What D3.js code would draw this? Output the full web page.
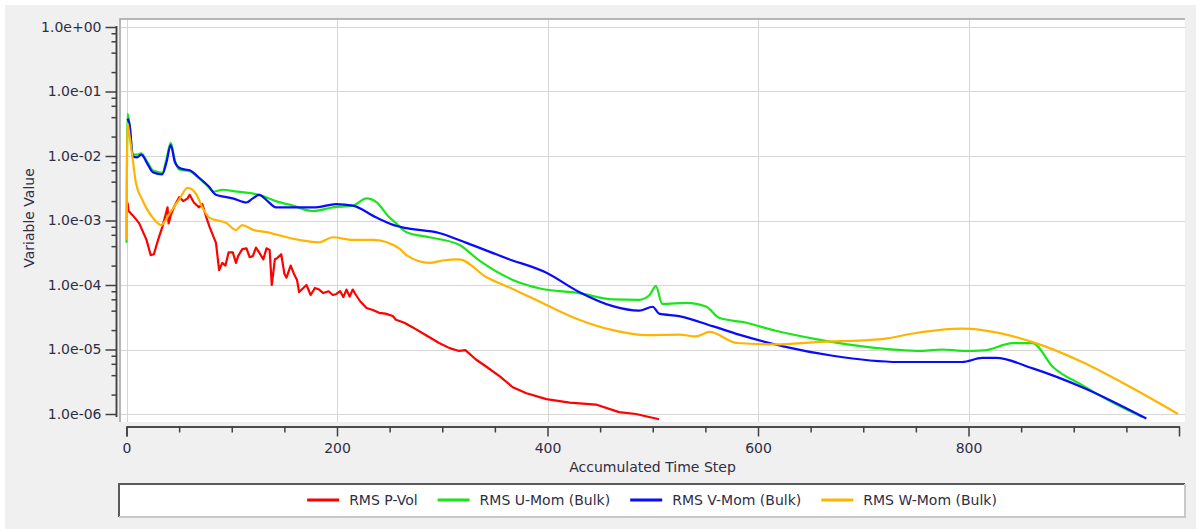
<!DOCTYPE html>
<html>
<head>
<meta charset="utf-8">
<script src="https://cdn.jsdelivr.net/npm/d3@7"></script>
<style>
  html, body { margin: 0; padding: 0; background: #fff; }
  svg { display: block; font-family: "DejaVu Sans", sans-serif; }
</style>
</head>
<body>
<svg id="chart" width="1199" height="529"></svg>
<script>
const width = 1199;
const height = 529;

// series: [step] / [value]
const seriesNames = ["RMS P-Vol", "RMS U-Mom (Bulk)", "RMS V-Mom (Bulk)", "RMS W-Mom (Bulk)"];
const seriesColors = ["#ff0000", "#19e619", "#0a0aff", "#ffb400"];

const pVolSteps = [1, 2, 6, 12, 19, 23, 26, 30, 34, 37, 39, 40, 42, 45, 50, 54, 58, 60, 64, 69, 72, 76, 79, 85, 88, 91, 94, 97, 101, 104, 106, 110, 114, 117, 120, 123, 126, 130, 133, 136, 138, 141, 143, 147, 150, 152, 156, 159, 162, 164, 168, 171, 175, 179, 183, 187, 192, 196, 199, 203, 206, 209, 212, 215, 218, 222, 228, 234, 240, 246, 253, 256, 264, 272, 285, 297, 307, 316, 322, 332, 342, 355, 367, 380, 399, 421, 446, 468, 484, 506];
const pVolValues = [1.9e-3, 1.4e-3, 1.2e-3, 9.1e-4, 5e-4, 2.9e-4, 3e-4, 5e-4, 7.9e-4, 1.2e-3, 1.6e-3, 9e-4, 1.2e-3, 1.6e-3, 2.3e-3, 2e-3, 2.2e-3, 2.5e-3, 1.9e-3, 1.6e-3, 1.8e-3, 1.1e-3, 7.9e-4, 4.5e-4, 1.7e-4, 2.2e-4, 2e-4, 3.2e-4, 3.2e-4, 2.2e-4, 2.8e-4, 3.6e-4, 3.7e-4, 2.7e-4, 2.8e-4, 3.8e-4, 3.2e-4, 2.5e-4, 3.7e-4, 3.5e-4, 1e-4, 2.5e-4, 2.6e-4, 3e-4, 1.5e-4, 1.3e-4, 2e-4, 1.5e-4, 1.2e-4, 7.8e-5, 9e-5, 1e-4, 7e-5, 9e-5, 8.5e-5, 7.5e-5, 8e-5, 7e-5, 7.2e-5, 8e-5, 6.5e-5, 8.5e-5, 6.6e-5, 8.5e-5, 7e-5, 5.6e-5, 4.4e-5, 4.1e-5, 3.7e-5, 3.6e-5, 3.3e-5, 2.9e-5, 2.6e-5, 2.2e-5, 1.65e-5, 1.26e-5, 1.05e-5, 9.5e-6, 9.8e-6, 7e-6, 5.4e-6, 3.8e-6, 2.6e-6, 2.1e-6, 1.7e-6, 1.5e-6, 1.4e-6, 1.07e-6, 1e-6, 8.3e-7];

const uMomSteps = [0, 1, 3, 6, 10, 14, 20, 25, 34, 38, 42, 46, 50, 60, 69, 78, 82, 91, 105, 126, 142, 158, 177, 196, 215, 228, 238, 248, 256, 266, 288, 316, 335, 367, 392, 430, 462, 487, 497, 503, 509, 532, 551, 563, 589, 617, 655, 703, 756, 775, 794, 815, 842, 861, 880, 908, 937, 965];
const uMomValues = [4.5e-4, 4.5e-2, 3e-2, 1.05e-2, 1.05e-2, 1.1e-2, 8e-3, 6e-3, 5.5e-3, 9e-3, 1.6e-2, 8.5e-3, 6.2e-3, 5.8e-3, 4.5e-3, 3.3e-3, 2.8e-3, 3e-3, 2.8e-3, 2.5e-3, 2e-3, 1.7e-3, 1.4e-3, 1.6e-3, 1.7e-3, 2.2e-3, 1.9e-3, 1.2e-3, 9.1e-4, 6.6e-4, 5.5e-4, 4.2e-4, 2.4e-4, 1.2e-4, 8.9e-5, 7.5e-5, 6e-5, 5.9e-5, 7e-5, 9.6e-5, 5.1e-5, 5.3e-5, 4.6e-5, 3.1e-5, 2.6e-5, 1.95e-5, 1.45e-5, 1.1e-5, 9.5e-6, 1e-5, 9.5e-6, 9.7e-6, 1.26e-5, 1.26e-5, 5.4e-6, 2.8e-6, 1.5e-6, 9e-7];

const vMomSteps = [1, 3, 6, 10, 14, 20, 25, 34, 38, 42, 46, 50, 55, 60, 69, 78, 85, 95, 101, 114, 120, 126, 134, 142, 158, 180, 199, 215, 238, 257, 266, 297, 323, 361, 399, 430, 462, 487, 500, 506, 525, 557, 582, 611, 624, 671, 734, 794, 813, 826, 861, 908, 969];
const vMomValues = [3.8e-2, 3e-2, 9.8e-3, 9.5e-3, 1.05e-2, 7.5e-3, 5.6e-3, 5.2e-3, 8e-3, 1.48e-2, 8e-3, 6.6e-3, 6.2e-3, 6e-3, 4.6e-3, 3.4e-3, 2.5e-3, 2.3e-3, 2.2e-3, 1.9e-3, 2.2e-3, 2.5e-3, 2e-3, 1.6e-3, 1.6e-3, 1.6e-3, 1.8e-3, 1.7e-3, 1.1e-3, 8.2e-4, 7.6e-4, 6.4e-4, 4.5e-4, 2.6e-4, 1.55e-4, 7.8e-5, 4.7e-5, 4e-5, 4.6e-5, 3.6e-5, 3.3e-5, 2.3e-5, 1.7e-5, 1.26e-5, 1.12e-5, 8e-6, 6.4e-6, 6.4e-6, 7.4e-6, 7.4e-6, 5.1e-6, 2.6e-6, 8.5e-7];

const wMomSteps = [0, 1, 3, 6, 9, 15, 25, 33, 41, 50, 58, 66, 72, 79, 95, 104, 110, 120, 133, 164, 183, 196, 215, 234, 259, 266, 288, 300, 316, 342, 367, 399, 430, 462, 494, 525, 541, 554, 580, 617, 655, 718, 750, 794, 813, 861, 908, 956, 999];
const wMomValues = [5e-4, 3.2e-2, 2e-2, 8.7e-3, 3.8e-3, 2.1e-3, 1.1e-3, 8.5e-4, 1.3e-3, 2.1e-3, 3.2e-3, 2.6e-3, 1.6e-3, 1.1e-3, 9.1e-4, 7.1e-4, 8.5e-4, 7.2e-4, 6.6e-4, 5e-4, 4.6e-4, 5.5e-4, 5e-4, 5e-4, 3.7e-4, 2.9e-4, 2.2e-4, 2.4e-4, 2.5e-4, 1.32e-4, 8.7e-5, 4.9e-5, 2.9e-5, 2e-5, 1.67e-5, 1.7e-5, 1.6e-5, 1.87e-5, 1.26e-5, 1.2e-5, 1.3e-5, 1.45e-5, 1.8e-5, 2.1e-5, 2e-5, 1.3e-5, 6.4e-6, 2.5e-6, 1e-6];

const xMajorTicks = [0, 200, 400, 600, 800];
const yMajorTicks = [1e-6, 1e-5, 1e-4, 1e-3, 1e-2, 1e-1, 1];

const series = [
  { name: seriesNames[0], color: seriesColors[0], steps: pVolSteps, values: pVolValues, curve: d3.curveLinear },
  { name: seriesNames[1], color: seriesColors[1], steps: uMomSteps, values: uMomValues, curve: d3.curveMonotoneX },
  { name: seriesNames[2], color: seriesColors[2], steps: vMomSteps, values: vMomValues, curve: d3.curveMonotoneX },
  { name: seriesNames[3], color: seriesColors[3], steps: wMomSteps, values: wMomValues, curve: d3.curveMonotoneX }
];

const textColor = "#2e2e44";
const plot = { left: 120, top: 19, right: 1185, bottom: 422 };

const x = d3.scaleLinear().domain([0, 1000]).range([126.5, 1179]);
const y = d3.scaleLog().domain([1e-6, 1]).range([414, 27]);

const svg = d3.select("svg#chart");

// window background
svg.append("rect")
  .attr("x", 5).attr("y", 5)
  .attr("width", width - 8).attr("height", height - 5)
  .attr("fill", "#f0f0f0");

// plot area
svg.append("rect")
  .attr("x", plot.left).attr("y", plot.top)
  .attr("width", plot.right - plot.left).attr("height", plot.bottom - plot.top)
  .attr("fill", "#fff");
svg.append("path")
  .attr("d", `M${plot.left},${plot.bottom}V${plot.top}H${plot.right}`)
  .attr("fill", "none")
  .attr("stroke", "#a0a0a0")
  .attr("stroke-width", 1.5);

// grid
const grid = svg.append("g").attr("stroke", "#d6d6d6").attr("stroke-width", 1);
grid.selectAll("line.h")
  .data(yMajorTicks)
  .join("line")
  .attr("class", "h")
  .attr("x1", plot.left + 1).attr("x2", plot.right)
  .attr("y1", d => Math.round(y(d)) + 0.5).attr("y2", d => Math.round(y(d)) + 0.5);
grid.selectAll("line.v")
  .data(xMajorTicks)
  .join("line")
  .attr("class", "v")
  .attr("y1", plot.top + 1).attr("y2", plot.bottom)
  .attr("x1", d => Math.round(x(d)) + 0.5).attr("x2", d => Math.round(x(d)) + 0.5);

// series
svg.append("clipPath").attr("id", "clip")
  .append("rect")
  .attr("x", plot.left).attr("y", plot.top)
  .attr("width", plot.right - plot.left).attr("height", plot.bottom - plot.top);

const lines = svg.append("g").attr("clip-path", "url(#clip)");
series.forEach(s => {
  const pts = s.steps.map((st, i) => [st, s.values[i]]);
  const line = d3.line()
    .x(d => x(d[0]))
    .y(d => y(d[1]))
    .curve(s.curve);
  lines.append("path")
    .datum(pts)
    .attr("fill", "none")
    .attr("stroke", s.color)
    .attr("stroke-width", 2.2)
    .attr("stroke-linejoin", "round")
    .attr("d", line);
});

// axes
function expFormat(v) {
  const [m, e] = v.toExponential(1).split("e");
  const n = Math.abs(+e);
  return m + "e" + (+e < 0 ? "-" : "+") + (n < 10 ? "0" + n : n);
}

const yMinor = [];
for (let p = -6; p < 0; p++) {
  [2, 4, 6, 8].forEach(k => yMinor.push(k * Math.pow(10, p)));
}
const xMinor = d3.range(50, 1000, 50).filter(d => !xMajorTicks.includes(d));

const axisColor = "#404040";

const yAxisG = svg.append("g").attr("transform", "translate(116.5,0)");
yAxisG.call(d3.axisLeft(y).tickValues(yMinor).tickSize(5).tickSizeOuter(0).tickFormat(""));
yAxisG.append("g").call(d3.axisLeft(y).tickValues(yMajorTicks).tickSize(11).tickPadding(4).tickFormat(expFormat));
yAxisG.selectAll("path.domain").attr("d", `M0,${y(1) - 1}V${y(1e-6) + 3}`);

const xAxisG = svg.append("g").attr("transform", "translate(0,426.5)");
xAxisG.call(d3.axisBottom(x).tickValues(xMinor).tickSize(6).tickSizeOuter(0).tickFormat(""));
xAxisG.append("g").call(d3.axisBottom(x).tickValues(xMajorTicks).tickSize(10).tickPadding(7).tickFormat(d3.format("d")));

svg.selectAll(".domain, .tick line").attr("stroke", axisColor).attr("stroke-width", 1.5);
svg.selectAll(".tick text")
  .attr("fill", textColor)
  .style("font-size", "14px")
  .style("font-family", "\"DejaVu Sans\", sans-serif");

// axis titles
svg.append("text")
  .attr("x", (plot.left + plot.right) / 2)
  .attr("y", 472)
  .attr("text-anchor", "middle")
  .attr("fill", textColor)
  .style("font-size", "14px")
  .text("Accumulated Time Step");

svg.append("text")
  .attr("transform", "translate(34,218) rotate(-90)")
  .attr("text-anchor", "middle")
  .attr("fill", textColor)
  .style("font-size", "14px")
  .text("Variable Value");

// legend
const lg = { left: 119, top: 484, right: 1185, bottom: 517 };
svg.append("rect")
  .attr("x", lg.left).attr("y", lg.top)
  .attr("width", lg.right - lg.left).attr("height", lg.bottom - lg.top)
  .attr("fill", "#fff");
svg.append("path")
  .attr("d", `M${lg.left},${lg.bottom}V${lg.top}H${lg.right}`)
  .attr("fill", "none").attr("stroke", "#5a5a5a").attr("stroke-width", 2);
svg.append("path")
  .attr("d", `M${lg.right},${lg.top}V${lg.bottom}H${lg.left}`)
  .attr("fill", "none").attr("stroke", "#c8c8c8").attr("stroke-width", 2);

const legendG = svg.append("g");
const swatch = 32, swGap = 10, itemGap = 20;
const items = series.map(s => {
  const g = legendG.append("g");
  g.append("line")
    .attr("x1", 0).attr("x2", swatch)
    .attr("y1", 0).attr("y2", 0)
    .attr("stroke", s.color).attr("stroke-width", 3);
  const t = g.append("text")
    .attr("x", swatch + swGap)
    .attr("dy", "0.35em")
    .attr("fill", textColor)
    .style("font-size", "14px")
    .text(s.name);
  return { g, w: swatch + swGap + t.node().getComputedTextLength() };
});
const total = d3.sum(items, d => d.w) + itemGap * (items.length - 1);
let cx = (lg.left + lg.right) / 2 - total / 2;
items.forEach(it => {
  it.g.attr("transform", `translate(${cx},500)`);
  cx += it.w + itemGap;
});
</script>
</body>
</html>
